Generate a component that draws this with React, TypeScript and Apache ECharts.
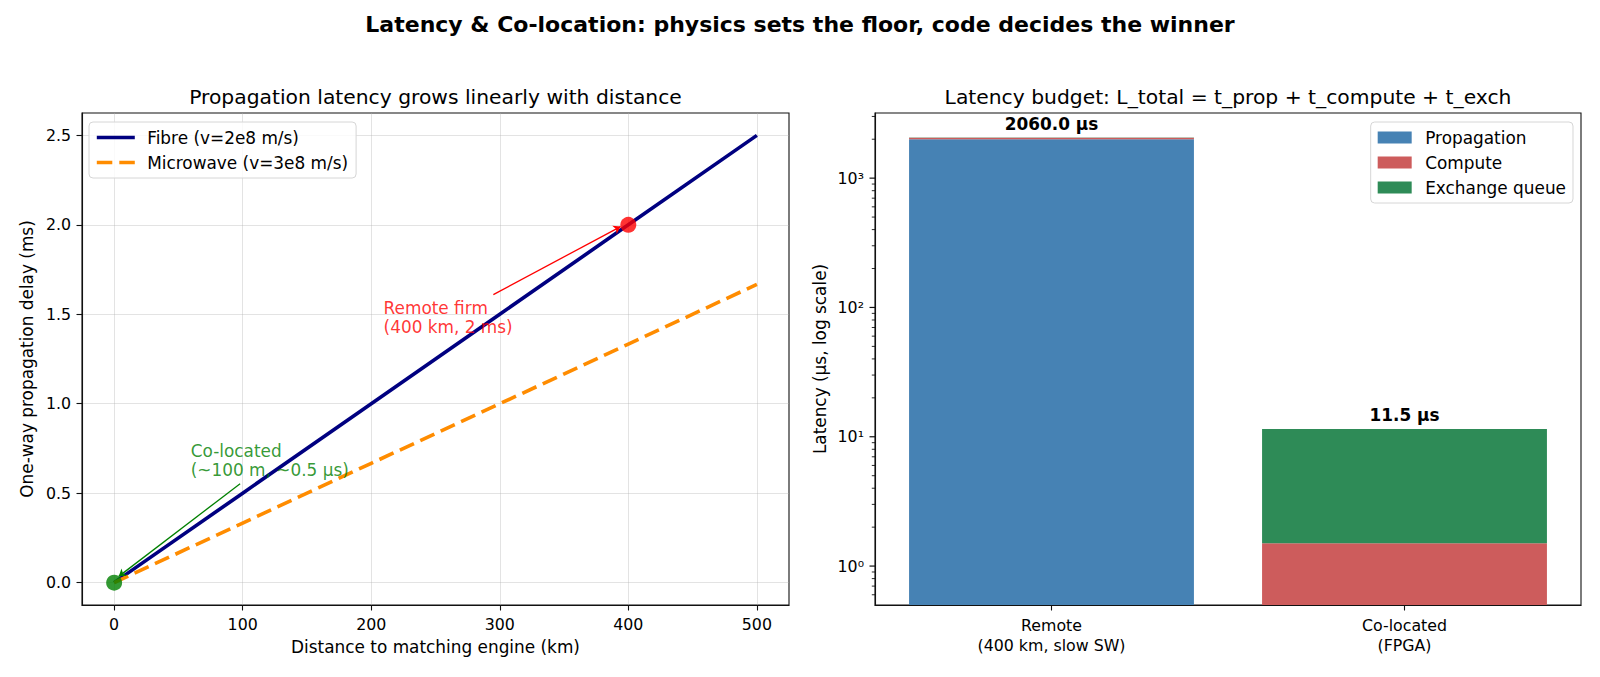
import React, { useEffect, useRef } from 'react';
import * as echarts from 'echarts';

// ---------- Left panel data ----------
const distancesKm = [0, 100, 200, 300, 400, 500];
const fibreMs = [0, 0.5, 1.0, 1.5, 2.0, 2.5];
const microwaveMs = [0, 0.333, 0.667, 1.0, 1.333, 1.667];
const xTicks = [0, 100, 200, 300, 400, 500];
const yTicks = [0, 0.5, 1.0, 1.5, 2.0, 2.5];
const remotePoint = [400, 2.0];
const colocPoint = [0, 0];
const remoteLabelAnchor = [210, 1.4];
const colocLabelAnchor = [60, 0.6];
const remoteArrow = [[295, 1.61], [394, 1.99]];
const colocArrow = [[98, 0.553], [3.6, 0.035]];

// ---------- Right panel data ----------
const categories = ['Remote\n(400 km, slow SW)', 'Co-located\n(FPGA)'];
const propagation = [2000, 0.5];
const compute = [50, 1.0];
const exchange = [10, 10];
const logMajorTicks = [1, 10, 100, 1000];
const logMinorTicks = [0.6, 0.7, 0.8, 0.9, 2, 3, 4, 5, 6, 7, 8, 9, 20, 30, 40, 50, 60, 70, 80, 90, 200, 300, 400, 500, 600, 700, 800, 900, 2000, 3000];

const Y_MIN = 0.5;
const Y_MAX = 3190;
const FONT = "'DejaVu Sans', sans-serif";
const FS_TICK = 15.8;
const FS = 16.9;

const SUP = ['⁰', '¹', '²', '³', '⁴', '⁵', '⁶', '⁷', '⁸', '⁹'];

export default function App() {
  const ref = useRef<HTMLDivElement>(null);
  useEffect(() => {
    if (!ref.current) return;
    const chart = echarts.init(ref.current, undefined, { renderer: 'svg' });

    const propSeg = propagation.map((v, i) => [i, 0, v]);
    const compSeg = compute.map((v, i) => [i, propagation[i], propagation[i] + v]);
    const exchSeg = exchange.map((v, i) => [i, propagation[i] + compute[i], propagation[i] + compute[i] + v]);
    const totals = propagation.map((v, i) => [i, v + compute[i] + exchange[i]]);

    const barRender = (color: string) => (params: any, api: any) => {
      const cat = api.value(0);
      const lo = Math.max(api.value(1), Y_MIN);
      const hi = api.value(2);
      if (hi <= lo) return null;
      const cs = params.coordSys;
      const band = cs.width / categories.length;
      const w = band * 0.807;
      const pLo = api.coord([cat, lo]);
      const pHi = api.coord([cat, hi]);
      return {
        type: 'rect',
        shape: { x: pLo[0] - w / 2, y: pHi[1], width: w, height: pLo[1] - pHi[1] },
        style: { fill: color },
      };
    };

    const tickData = [
      ...logMajorTicks.map((v) => [0, v, 1]),
      ...logMinorTicks.map((v) => [0, v, 0]),
    ];

    const axisLineStyle = { color: '#111', width: 1.1 };
    const tickLabelStyle = { color: '#000', fontSize: FS_TICK, fontFamily: FONT };
    const nameStyle = { color: '#000', fontSize: FS, fontFamily: FONT };
    const legendBase = {
      orient: 'vertical', top: 122,
      itemGap: 8,
      backgroundColor: 'rgba(255,255,255,0.8)', borderColor: '#d6d6d6', borderWidth: 1, borderRadius: 4,
      selectedMode: false,
    };

    const option: any = {
      animation: false,
      textStyle: { fontFamily: FONT },
      graphic: [
        {
          type: 'text', x: 800, y: 24,
          style: {
            text: 'Latency & Co-location: physics sets the floor, code decides the winner',
            font: `bold 22px ${FONT}`, fill: '#000',
            align: 'center', verticalAlign: 'middle', textAlign: 'center', textVerticalAlign: 'middle',
          },
        },
        {
          type: 'text', x: 435.5, y: 97,
          style: {
            text: 'Propagation latency grows linearly with distance',
            font: `20.3px ${FONT}`, fill: '#000',
            align: 'center', verticalAlign: 'middle', textAlign: 'center', textVerticalAlign: 'middle',
          },
        },
        {
          type: 'text', x: 1228, y: 97,
          style: {
            text: 'Latency budget: L_total = t_prop + t_compute + t_exch',
            font: `20.3px ${FONT}`, fill: '#000',
            align: 'center', verticalAlign: 'middle', textAlign: 'center', textVerticalAlign: 'middle',
          },
        },
      ],
      grid: [
        { left: 82, top: 113, width: 707, height: 492, show: true, borderColor: '#111', borderWidth: 1.1, backgroundColor: 'transparent' },
        { left: 875, top: 113, width: 706, height: 492, show: true, borderColor: '#111', borderWidth: 1.1, backgroundColor: 'transparent' },
      ],
      legend: [
        {
          ...legendBase,
          data: ['Fibre (v=2e8 m/s)', 'Microwave (v=3e8 m/s)'],
          left: 89,
          padding: [7, 8, 7, 6],
          itemWidth: 38, itemHeight: 2,
          itemStyle: { opacity: 0 },
          lineStyle: { width: 3.6 },
          textStyle: { fontSize: FS, fontFamily: FONT, color: '#000', lineHeight: 17, padding: [0, 0, 0, 7.4] },
        },
        {
          ...legendBase,
          data: [
            { name: 'Propagation', icon: 'rect' },
            { name: 'Compute', icon: 'rect' },
            { name: 'Exchange queue', icon: 'rect' },
          ],
          right: 27,
          padding: [7, 7, 7, 7],
          itemWidth: 34, itemHeight: 12,
          textStyle: { fontSize: FS, fontFamily: FONT, color: '#000', lineHeight: 17, padding: [0, 0, 0, 8.5] },
        },
      ],
      xAxis: [
        {
          gridIndex: 0, type: 'value', min: -25, max: 525,
          axisLine: { show: true, onZero: false, lineStyle: axisLineStyle },
          axisTick: { show: true, length: 5.5, lineStyle: axisLineStyle, customValues: xTicks },
          axisLabel: { ...tickLabelStyle, margin: 11, customValues: xTicks },
          splitLine: { show: true, lineStyle: { color: '#b0b0b0', opacity: 0.35, width: 1 } },
          name: 'Distance to matching engine (km)', nameLocation: 'middle', nameGap: 33,
          nameTextStyle: { ...nameStyle },
        },
        {
          gridIndex: 1, type: 'category', data: categories, boundaryGap: true,
          axisLine: { show: true, onZero: false, lineStyle: axisLineStyle },
          axisTick: { show: true, alignWithLabel: true, length: 5.5, lineStyle: axisLineStyle },
          axisLabel: { ...tickLabelStyle, margin: 11, lineHeight: 19.5 },
          splitLine: { show: false },
        },
      ],
      yAxis: [
        {
          gridIndex: 0, type: 'value', min: -0.125, max: 2.625,
          axisLine: { show: true, onZero: false, lineStyle: axisLineStyle },
          axisTick: { show: true, length: 5.5, lineStyle: axisLineStyle, customValues: yTicks },
          axisLabel: { ...tickLabelStyle, margin: 11, customValues: yTicks, formatter: (v: number) => v.toFixed(1) },
          splitLine: { show: true, lineStyle: { color: '#b0b0b0', opacity: 0.35, width: 1 } },
          name: 'One-way propagation delay (ms)', nameLocation: 'middle', nameGap: 47,
          nameTextStyle: { ...nameStyle },
        },
        {
          gridIndex: 1, type: 'log', logBase: 10, min: Y_MIN, max: Y_MAX,
          axisLine: { show: true, onZero: false, lineStyle: axisLineStyle },
          axisTick: { show: false },
          axisLabel: {
            ...tickLabelStyle, margin: 11, showMinLabel: false, showMaxLabel: false,
            formatter: (v: number) => {
              const l = Math.log10(v);
              const r = Math.round(l);
              if (Math.abs(l - r) > 1e-6 || r < 0) return '';
              return '10' + String(r).split('').map((c) => SUP[+c]).join('');
            },
          },
          splitLine: { show: false },
          name: 'Latency (µs, log scale)', nameLocation: 'middle', nameGap: 47,
          nameTextStyle: { ...nameStyle },
        },
      ],
      series: [
        {
          name: 'Fibre (v=2e8 m/s)', type: 'line', xAxisIndex: 0, yAxisIndex: 0,
          data: distancesKm.map((d, i) => [d, fibreMs[i]]),
          symbol: 'none', showSymbol: false,
          lineStyle: { color: '#000080', width: 3.6 }, itemStyle: { color: '#000080' }, z: 3,
        },
        {
          name: 'Microwave (v=3e8 m/s)', type: 'line', xAxisIndex: 0, yAxisIndex: 0,
          data: distancesKm.map((d, i) => [d, microwaveMs[i]]),
          symbol: 'none', showSymbol: false,
          lineStyle: { color: '#ff8c00', width: 3.6, type: [15.5, 7] }, itemStyle: { color: '#ff8c00' }, z: 3,
        },
        {
          name: 'points', type: 'scatter', xAxisIndex: 0, yAxisIndex: 0, symbolSize: 16, z: 5,
          data: [
            { value: remotePoint, itemStyle: { color: '#ff0000' } },
            { value: colocPoint, itemStyle: { color: '#008000' } },
          ],
        },
        {
          name: 'annotations', type: 'scatter', xAxisIndex: 0, yAxisIndex: 0, symbolSize: 1, z: 6,
          itemStyle: { color: 'rgba(0,0,0,0)' },
          data: [
            {
              value: remoteLabelAnchor,
              label: {
                show: true, formatter: 'Remote firm\n(400 km, 2 ms)', color: '#ff0000',
                position: [0, 0], align: 'left', verticalAlign: 'bottom', offset: [0, 5],
                fontSize: FS, fontFamily: FONT, lineHeight: 19,
              },
            },
            {
              value: colocLabelAnchor,
              label: {
                show: true, formatter: 'Co-located\n(~100 m, ~0.5 µs)', color: '#008000',
                position: [0, 0], align: 'left', verticalAlign: 'bottom', offset: [0, 5],
                fontSize: FS, fontFamily: FONT, lineHeight: 19,
              },
            },
          ],
          markLine: {
            silent: true, symbol: ['none', 'arrow'], symbolSize: 7,
            label: { show: false },
            data: [
              [
                { coord: remoteArrow[0], lineStyle: { color: '#ff0000', width: 1.3, type: 'solid' }, itemStyle: { color: '#ff0000' } },
                { coord: remoteArrow[1] },
              ],
              [
                { coord: colocArrow[0], lineStyle: { color: '#008000', width: 1.3, type: 'solid' }, itemStyle: { color: '#008000' } },
                { coord: colocArrow[1] },
              ],
            ],
          },
        },
        {
          name: 'Propagation', type: 'custom', xAxisIndex: 1, yAxisIndex: 1,
          encode: { x: 0, y: 2 }, data: propSeg, itemStyle: { color: '#4682b4' },
          renderItem: barRender('#4682b4'), z: 2,
        },
        {
          name: 'Compute', type: 'custom', xAxisIndex: 1, yAxisIndex: 1,
          encode: { x: 0, y: 2 }, data: compSeg, itemStyle: { color: '#cd5c5c' },
          renderItem: barRender('#cd5c5c'), z: 2,
        },
        {
          name: 'Exchange queue', type: 'custom', xAxisIndex: 1, yAxisIndex: 1,
          encode: { x: 0, y: 2 }, data: exchSeg, itemStyle: { color: '#2e8b57' },
          renderItem: barRender('#2e8b57'), z: 2,
        },
        {
          name: 'totals', type: 'custom', xAxisIndex: 1, yAxisIndex: 1,
          encode: { x: 0, y: 1 }, data: totals, z: 4,
          renderItem: (params: any, api: any) => {
            const v = api.value(1);
            const p = api.coord([api.value(0), v]);
            return {
              type: 'text', x: p[0], y: p[1] - 5,
              style: {
                text: `${v.toFixed(1)} µs`, fill: '#000', font: `bold ${FS}px ${FONT}`,
                align: 'center', verticalAlign: 'bottom', textAlign: 'center', textVerticalAlign: 'bottom',
              },
            };
          },
        },
        {
          name: 'logticks', type: 'custom', xAxisIndex: 1, yAxisIndex: 1, clip: false,
          encode: { x: 0, y: 1 }, data: tickData, z: 4, silent: true,
          renderItem: (params: any, api: any) => {
            const v = api.value(1);
            const major = api.value(2) === 1;
            const p = api.coord([0, v]);
            const x0 = params.coordSys.x;
            const len = major ? 5.5 : 3.2;
            return {
              type: 'line',
              shape: { x1: x0 - len, y1: p[1], x2: x0, y2: p[1] },
              style: { stroke: '#111', lineWidth: major ? 1.2 : 0.9 },
            };
          },
        },
      ],
    };

    chart.setOption(option);
    return () => chart.dispose();
  }, []);

  return (
    <div
      ref={ref}
      style={{ position: 'absolute', left: 0, top: 0, width: 1600, height: 677, background: '#fff' }}
    />
  );
}
